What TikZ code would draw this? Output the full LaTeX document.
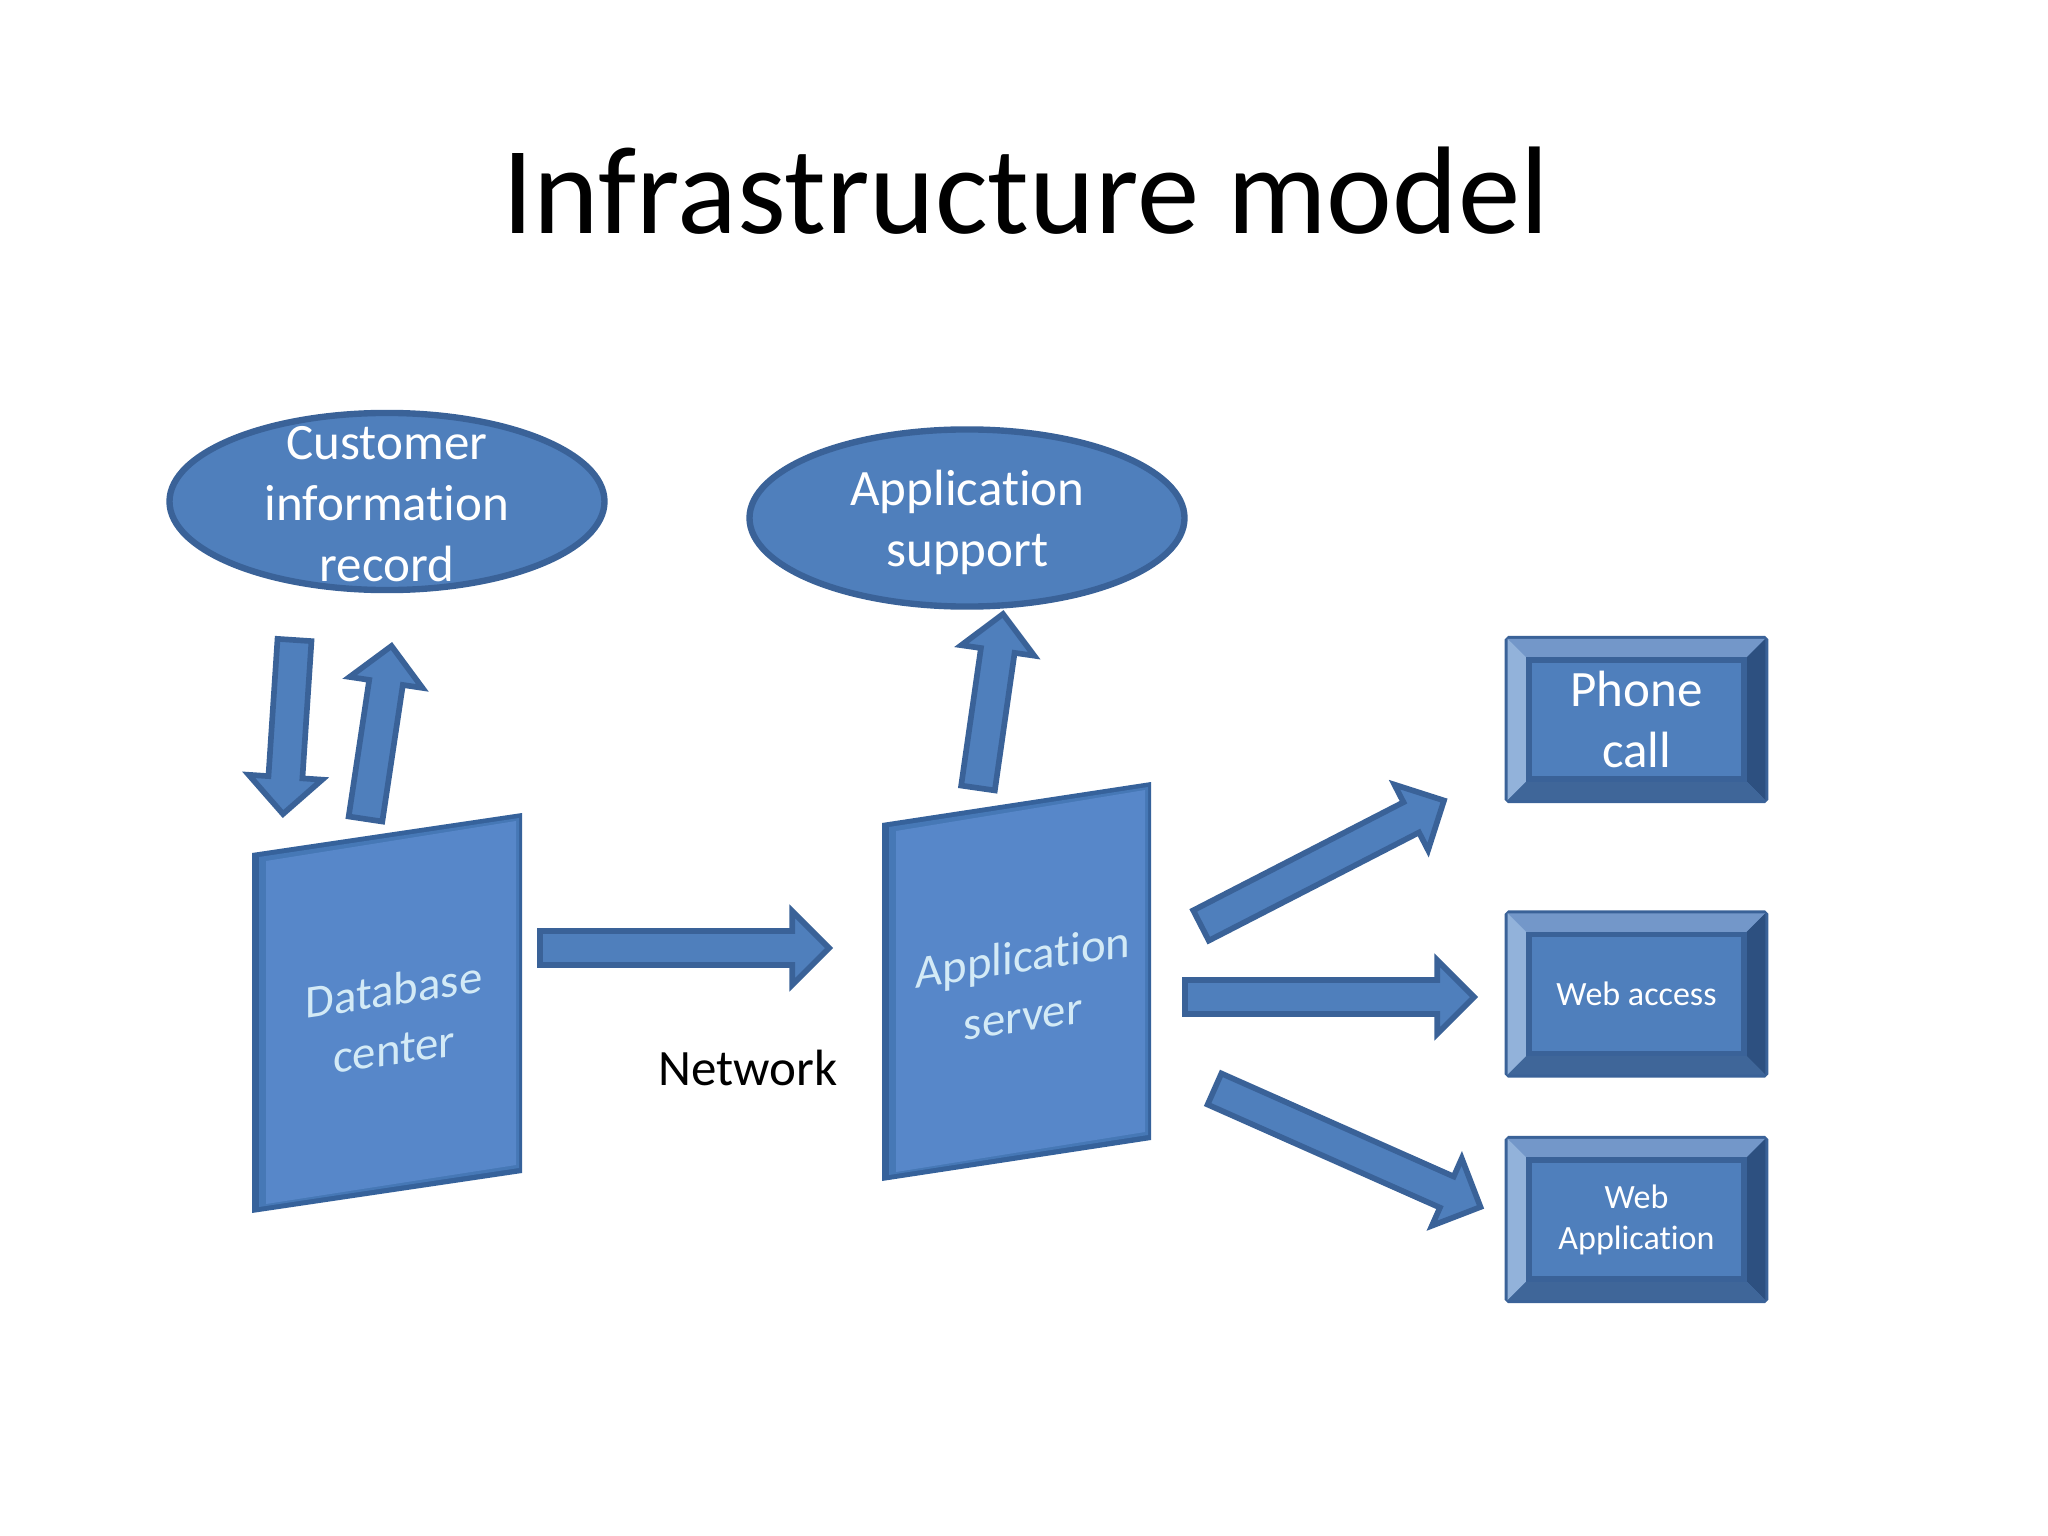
\documentclass[tikz,border=0pt]{standalone}
\usepackage{fontspec}
\setmainfont{Carlito}[Ligatures=NoCommon]
\usepackage{tikz}
\usetikzlibrary{calc}
\usetikzlibrary{shapes}
\definecolor{faceblue}{HTML}{4F7FBC}
\definecolor{edgeblue}{HTML}{3A6298}
\definecolor{cardblue}{HTML}{5787C9}
\definecolor{cardmid}{HTML}{4678B6}
\definecolor{cardedge}{HTML}{36629B}
\definecolor{cardtext}{HTML}{D3EAF6}
\definecolor{bevtop}{HTML}{7397C9}
\definecolor{bevleft}{HTML}{92B2DA}
\definecolor{bevright}{HTML}{2D5080}
\definecolor{bevbottom}{HTML}{3F6699}
\tikzset{
  oval/.style={shape=ellipse,draw=edgeblue,fill=faceblue,line width=2.25pt,inner sep=0pt,minimum width=153.5pt,minimum height=62.5pt},
  ovaltext/.style={text=white,align=center,font=\fontsize{18}{21.5}\selectfont},
  cardtext/.style={text=cardtext,align=center,font=\fontsize{16.5}{21}\selectfont,yslant=0.148},
  blockarrow/.style={draw=edgeblue,fill=faceblue,line width=2pt},
  keybox/.style={shape=rectangle,draw=edgeblue,fill=faceblue,line width=2pt,rounded corners=0.6pt,minimum width=91pt,minimum height=57pt,inner sep=0pt,text=white,align=center},
  bigtext/.style={font=\fontsize{18}{21.5}\selectfont},
  smalltext/.style={font=\fontsize{12}{14.5}\selectfont}
}
% block arrow from #1 to #2
\newcommand{\barrow}[2]{
  \coordinate (hd) at ($(#2)!13pt!(#1)$);
  \draw[blockarrow] ($(#1)!6pt!90:(#2)$) -- ($(hd)!6pt!-90:(#1)$) -- ($(hd)!13pt!-90:(#1)$) -- (#2)
    -- ($(hd)!13pt!90:(#1)$) -- ($(hd)!6pt!90:(#1)$) -- ($(#1)!6pt!-90:(#2)$) -- cycle;}
% leaning card: left x, right x, top left y, top right y, height
\newcommand{\tiltcard}[5]{
  \fill[cardedge] (#1,#3) -- (#2,#4) -- (#2,{#4+#5}) -- (#1,{#3+#5}) -- cycle;
  \fill[cardmid] ({#1+7},{#3+4}) -- ({#2-3},{#4+5}) -- ({#2-3},{#4+#5-5}) -- ({#1+7},{#3+#5-6}) -- cycle;
  \fill[cardblue] ({#1+14},{#3+8}) -- ({#2-6},{#4+8}) -- ({#2-6},{#4+#5-8}) -- ({#1+14},{#3+#5-9}) -- cycle;}
% bevelled box: name, x, y, text style, text
\newcommand{\bevelbox}[5]{
  \node[keybox,#4] (#1) at (#2,#3) {#5};
  \fill[bevtop] ($(#1.north west)+(3,3)$) -- ($(#1.north east)+(-3,3)$) -- ($(#1.north east)+(-24,24)$) -- ($(#1.north west)+(24,24)$) -- cycle;
  \fill[bevleft] ($(#1.north west)+(3,3)$) -- ($(#1.south west)+(3,-3)$) -- ($(#1.south west)+(24,-24)$) -- ($(#1.north west)+(24,24)$) -- cycle;
  \fill[bevright] ($(#1.north east)+(-3,3)$) -- ($(#1.south east)+(-3,-3)$) -- ($(#1.south east)+(-24,-24)$) -- ($(#1.north east)+(-24,24)$) -- cycle;
  \fill[bevbottom] ($(#1.south west)+(3,-3)$) -- ($(#1.south east)+(-3,-3)$) -- ($(#1.south east)+(-24,-24)$) -- ($(#1.south west)+(24,-24)$) -- cycle;
  \draw[edgeblue,line width=2pt] ($(#1.north west)+(24,24)$) rectangle ($(#1.south east)+(-24,-24)$);}
\begin{document}
\begin{tikzpicture}[x=0.3515625bp,y=-0.3515625bp]
  \useasboundingbox (0,0) rectangle (2048,1536);
  \node[anchor=base,font=\fontsize{44}{52}\selectfont] (title) at (1025.5,234) {Infrastructure model};
  % ovals
  \node[oval] (cust) at (387,501.5) {};
  \node[ovaltext] (custtext) at (387,504) {Customer\\information\\record};
  \node[oval] (supp) at (967,518) {};
  \node[ovaltext] (supptext) at (967.5,522) {Application\\support};
  % leaning cards
  \tiltcard{252}{522}{853}{813}{360}
  \node[cardtext] (db) at (394,1019) {Database\\center};
  \tiltcard{882}{1151}{823}{782}{358}
  \node[cardtext] (app) at (1023,986) {Application\\server};
  \node[anchor=base,font=\fontsize{18}{22}\selectfont] (net) at (748,1085) {Network};
  % right column
  \bevelbox{phone}{1636.5}{719.5}{bigtext}{Phone\\call}
  \bevelbox{webacc}{1636.5}{994}{smalltext}{Web access}
  \bevelbox{webapp}{1636.5}{1219.5}{smalltext}{Web\\Application}
  % arrow ends
  \coordinate (custin) at (294.5,640);
  \coordinate (dbtop) at (283,814);
  \coordinate (dbout) at (365.5,819);
  \coordinate (custout) at (391.5,646);
  \coordinate (netl) at (540,948);
  \coordinate (netr) at (829,948);
  \coordinate (appup) at (978,788);
  \coordinate (suppin) at (1003,614);
  \coordinate (appa) at (1201,925.5);
  \coordinate (phonein) at (1444,800.5);
  \coordinate (appb) at (1185,997);
  \coordinate (webaccin) at (1474,997);
  \coordinate (appc) at (1214.5,1089);
  \coordinate (webappin) at (1480.5,1207);
  \barrow{custin}{dbtop}
  \barrow{dbout}{custout}
  \barrow{netl}{netr}
  \barrow{appup}{suppin}
  \barrow{appa}{phonein}
  \barrow{appb}{webaccin}
  \barrow{appc}{webappin}
\end{tikzpicture}
\end{document}
